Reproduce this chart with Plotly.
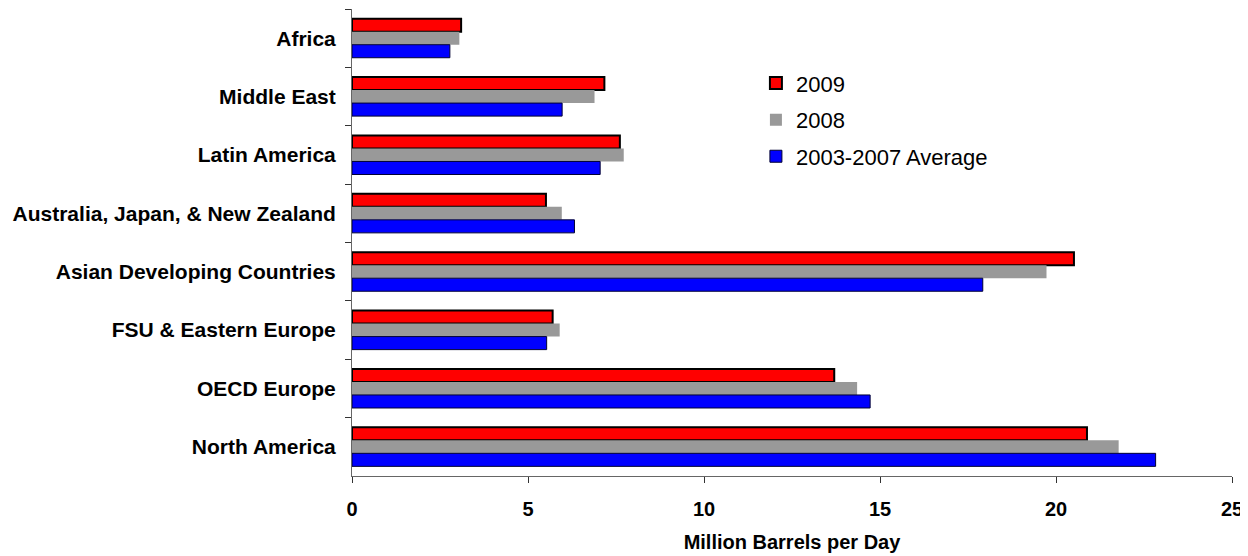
import plotly.graph_objects as go

regions = ["Africa", "Middle East", "Latin America", "Australia, Japan, & New Zealand",
           "Asian Developing Countries", "FSU & Eastern Europe", "OECD Europe", "North America"]
v2009 = [3.10, 7.17, 7.61, 5.51, 20.51, 5.70, 13.70, 20.88]
v2008 = [3.05, 6.89, 7.72, 5.96, 19.73, 5.90, 14.35, 21.78]
vavg = [2.78, 5.97, 7.05, 6.32, 17.92, 5.53, 14.72, 22.83]
xticks = [0, 5, 10, 15, 20, 25]

FONT = "Liberation Sans, Arial, sans-serif"

fig = go.Figure()
fig.add_trace(go.Bar(y=regions, x=v2009, name="2009", orientation="h", legendgroup="a",
                     marker=dict(color="#FF0000", line=dict(color="#000000", width=2))))
fig.add_trace(go.Bar(y=regions, x=v2008, name="2008", orientation="h", legendgroup="b",
                     marker=dict(color="#999999", line=dict(color="#999999", width=0))))
fig.add_trace(go.Bar(y=regions, x=vavg, name="2003-2007 Average", orientation="h", legendgroup="c",
                     marker=dict(color="#0000FF", line=dict(color="#000033", width=1))))

# page body has an 8px margin, so the figure is sized/offset to compensate
fig.update_layout(
    width=1240, height=548,
    margin=dict(l=344, r=16, t=1, b=80),
    paper_bgcolor="white", plot_bgcolor="white",
    barmode="group", bargap=0.33, bargroupgap=0,
    font=dict(family=FONT, color="black"),
    showlegend=True,
    legend=dict(x=0.459, y=0.886, xanchor="left", yanchor="top", traceorder="grouped",
                tracegroupgap=5, font=dict(size=22), bgcolor="rgba(0,0,0,0)",
                itemwidth=30),
    xaxis=dict(range=[0, 25], tickvals=xticks, ticktext=[f"<b>{t}</b>" for t in xticks],
               automargin=False,
               showgrid=False, zeroline=False, showline=True, linecolor="#666666", linewidth=1,
               ticks="outside", ticklen=6, tickcolor="#333333",
               tickfont=dict(size=20, family=FONT),
               ticklabelstandoff=9,
               title=dict(text="<b>Million Barrels per Day</b>", font=dict(size=20), standoff=15)),
    yaxis=dict(autorange="reversed", automargin=False,
               showgrid=False, showline=True, linecolor="#666666", linewidth=1,
               ticks="outside", ticklen=6, tickcolor="#333333", tickson="boundaries",
               tickprefix="<b>", ticksuffix="</b>",
               tickfont=dict(size=21, family=FONT), ticklabelstandoff=11),
)

fig.write_html("out.html")
